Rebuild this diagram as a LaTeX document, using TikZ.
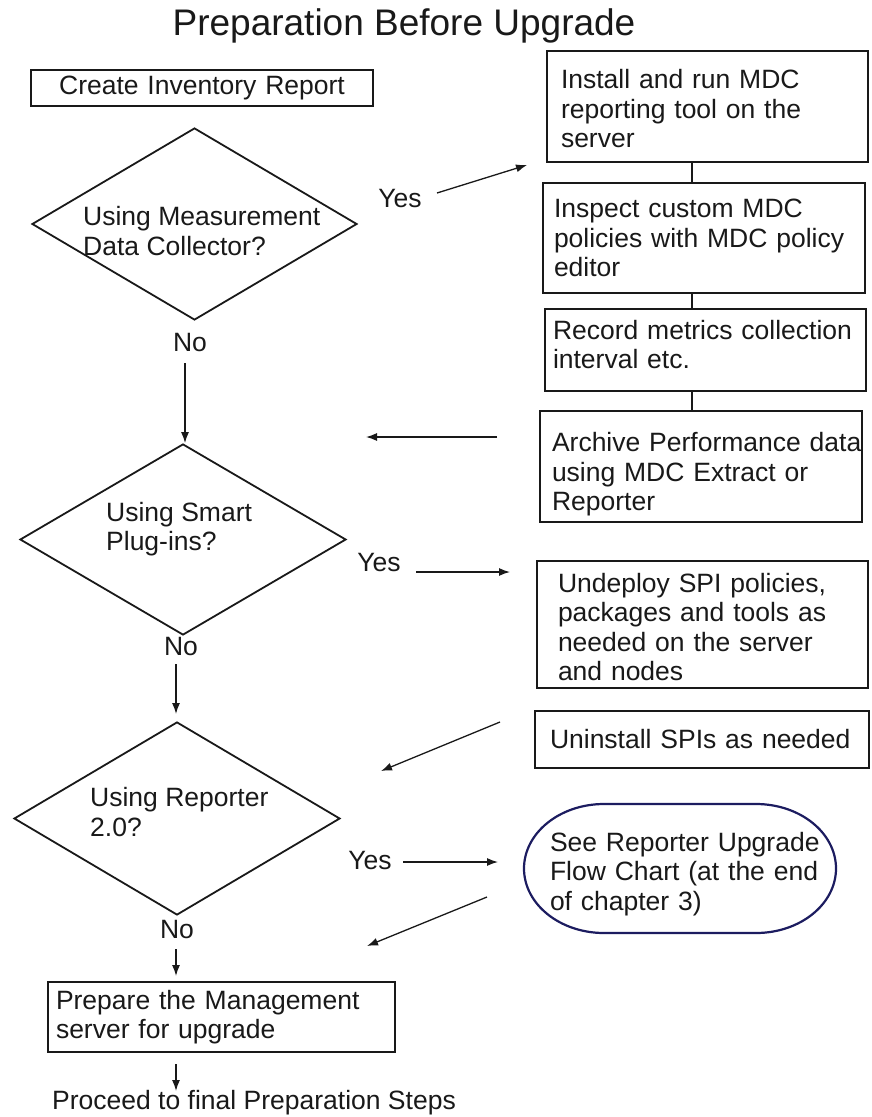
\documentclass[tikz,border=0pt]{standalone}
\usepackage{fontspec}
\setmainfont{Liberation Sans}
\usetikzlibrary{shapes.geometric,arrows.meta}
\definecolor{ink}{RGB}{25,25,25}
\definecolor{termline}{RGB}{28,28,96}

\begin{document}
\begin{tikzpicture}[x=1pt,y=-1pt,
  every node/.style={font=\fontsize{26.5}{29.5}\selectfont, text=ink},
  stepbox/.style={draw=ink, line width=2pt, rectangle, align=left, inner ysep=0pt},
  termbox/.style={rectangle, align=left, inner ysep=0pt},
  termedge/.style={draw=termline, line width=2.2pt},
  decision/.style={draw=ink, line width=1.8pt, diamond, inner sep=0pt},
  qtext/.style={anchor=west, align=left, inner sep=0pt},
  answer/.style={inner sep=0pt},
  flow/.style={draw=ink, line width=1.3pt, -{Latex[length=11pt,width=8pt]}},
  link/.style={draw=ink, line width=1.2pt}]

% page area
\fill[white] (0,0) rectangle (871,1117);
\useasboundingbox (0,0) rectangle (871,1117);

% title
\node[anchor=base, inner sep=0pt, font=\fontsize{37}{41}\selectfont] (title) at (404,35) {Preparation Before Upgrade};

% left column
\node[stepbox, align=center, text width=322pt, inner xsep=10pt, minimum height=36pt] (inventory) at (202,88) {Create Inventory Report};

\node[decision, minimum width=325pt, minimum height=192pt] (q1) at (194.5,224) {};
\node[qtext] (q1t) at (83,231) {Using Measurement\\Data Collector?};

\node[decision, minimum width=326pt, minimum height=191pt] (q2) at (183,539.5) {};
\node[qtext] (q2t) at (106,529) {Using Smart\\Plug-ins?};

\node[decision, minimum width=326pt, minimum height=193pt] (q3) at (177,818.5) {};
\node[qtext] (q3t) at (90,812) {Using Reporter\\2.0?};

\node[stepbox, text width=331pt, inner xsep=8pt, minimum height=70pt] (prepare) at (221.5,1017) {Prepare the Management\\server for upgrade};

\node[answer] (proceed) at (254,1103) {Proceed to final Preparation Steps};

% right column
\node[stepbox, text width=293pt, inner xsep=14pt, minimum height=111pt, text height=24pt] (install) at (707.5,106.5) {Install and run MDC\\reporting tool on the\\server};
\node[stepbox, text width=300pt, inner xsep=11pt, minimum height=110pt] (inspect) at (704,238) {Inspect custom MDC\\policies with MDC policy\\editor};
\node[stepbox, text width=305pt, inner xsep=8pt, minimum height=82pt, text height=8pt] (record) at (705.5,350) {Record metrics collection\\interval etc.};
\node[stepbox, text width=298pt, inner xsep=12pt, minimum height=111pt, text height=35pt] (archive) at (701,466.5) {\mbox{Archive Performance data}\\using MDC Extract or\\Reporter};
\node[stepbox, text width=289pt, inner xsep=21pt, minimum height=127pt, text height=24pt] (undeploy) at (702.5,624.5) {Undeploy SPI policies,\\packages and tools as\\needed on the server\\and nodes};
\node[stepbox, text width=304pt, inner xsep=15pt, minimum height=57pt] (uninstall) at (702,739.5) {Uninstall SPIs as needed};
\node[termbox, text width=260pt, inner xsep=26pt, minimum height=129pt, text height=30pt] (reporterflow) at (680,868.5) {\mbox{See Reporter Upgrade}\\\mbox{Flow Chart (at the end}\\of chapter 3)};
% oval outline of the terminal step, built from elliptic quarter arcs
\draw[termedge, shift={(reporterflow.center)}]
  (-76,-64.5) -- (76,-64.5)
  .. controls (120.2,-64.5) and (156,-35.6) .. (156,0)
  .. controls (156,35.6) and (120.2,64.5) .. (76,64.5)
  -- (-76,64.5)
  .. controls (-120.2,64.5) and (-156,35.6) .. (-156,0)
  .. controls (-156,-35.6) and (-120.2,-64.5) .. (-76,-64.5) -- cycle;

% branch labels
\node[answer] (yes1) at (400,199) {Yes};
\node[answer] (no1) at (190,343) {No};
\node[answer] (yes2) at (379,563) {Yes};
\node[answer] (no2) at (181,647) {No};
\node[answer] (yes3) at (370,861) {Yes};
\node[answer] (no3) at (177,930) {No};

% free ends of the connectors
\coordinate (spine) at (692,0);
\coordinate (y1s) at (437,193);  \coordinate (y1e) at (527,165);
\coordinate (n1s) at (185,363);
\coordinate (ars) at (497,437);  \coordinate (are) at (366,437);
\coordinate (y2s) at (416,572);  \coordinate (y2e) at (510,572);
\coordinate (n2s) at (176,664);  \coordinate (n2e) at (176,714);
\coordinate (uns) at (500,722);  \coordinate (une) at (381,771);
\coordinate (y3s) at (403,862);  \coordinate (y3e) at (498,862);
\coordinate (tes) at (487,897);  \coordinate (tee) at (367,946);
\coordinate (n3s) at (176,949);  \coordinate (n3e) at (176,976);
\coordinate (fns) at (176,1064); \coordinate (fne) at (176,1091);

% chain of MDC steps
\draw[link] (install.south -| spine) -- (inspect.north -| spine);
\draw[link] (inspect.south -| spine) -- (record.north -| spine);
\draw[link] (record.south -| spine) -- (archive.north -| spine);

% flow arrows
\draw[flow] (y1s) -- (y1e);
\draw[flow] (n1s) -- (n1s |- q2.north);
\draw[flow] (ars) -- (are);
\draw[flow] (y2s) -- (y2e);
\draw[flow] (n2s) -- (n2e);
\draw[flow] (uns) -- (une);
\draw[flow] (y3s) -- (y3e);
\draw[flow] (tes) -- (tee);
\draw[flow] (n3s) -- (n3e);
\draw[flow] (fns) -- (fne);
\end{tikzpicture}
\end{document}
